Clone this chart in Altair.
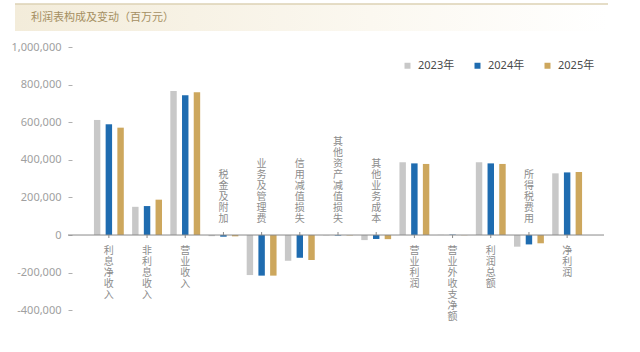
import altair as alt
import pandas as pd

categories = ["利息净收入", "非利息收入", "营业收入", "税金及附加", "业务及管理费", "信用减值损失",
              "其他资产减值损失", "其他业务成本", "营业利润", "营业外收支净额", "利润总额", "所得税费用", "净利润"]
years = ["2023年", "2024年", "2025年"]
v2023 = [612000, 150000, 766000, -6000, -213000, -137000, -2000, -27000, 387000, 1000, 387000, -62000, 328000]
v2024 = [589000, 154000, 743000, -9000, -216000, -121000, -3000, -21000, 381000, 2000, 381000, -50000, 333000]
v2025 = [571000, 188000, 759000, -7000, -216000, -133000, -2000, -22000, 378000, -1000, 378000, -44000, 335000]
y_ticks = [-400000, -200000, 0, 200000, 400000, 600000, 800000, 1000000]
title_text = "利润表构成及变动（百万元）"

colors = ["#c8c8c8", "#1f6cb0", "#cda75d"]
FONT = "Noto Sans, Noto Sans CJK SC"
W, H = 540, 273
LH = 11
FS = 10

rows = []
for series, yr in zip([v2023, v2024, v2025], years):
    for c, v in zip(categories, series):
        rows.append({"cat": c, "year": yr, "value": v})
df = pd.DataFrame(rows)

lab_rows = []
for i, c in enumerate(categories):
    s = v2023[i] + v2024[i] + v2025[i]
    lab_rows.append({"cat": c, "vert": "\n".join(list(c)), "n": len(c),
                     "side": "below" if s >= 0 else "above"})
lab = pd.DataFrame(lab_rows)

xscale = alt.Scale(domain=categories, paddingInner=0.08, paddingOuter=0.61)
yscale = alt.Scale(domain=[-452000, 1000000], nice=False, zero=False)
yaxis = alt.Axis(values=y_ticks, domain=False, grid=False, tickSize=4, tickColor="#b0b0b0",
                 labelColor="#a0a0a0", labelFont=FONT, labelFontSize=11, labelPadding=7,
                 offset=-4, labelOverlap=False, title=None,
                 labelExpr="replace(format(datum.value, ','), '\u2212', '-')")
X = alt.X("cat:N", scale=xscale, axis=None, sort=categories)
Y0 = alt.YDatum(0, scale=yscale, axis=yaxis, title=None)

bars = alt.Chart(df).mark_bar().encode(
    x=X,
    xOffset=alt.XOffset("year:N", scale=alt.Scale(domain=years, paddingInner=0.45, paddingOuter=0.225)),
    y=alt.Y("value:Q", scale=yscale, title=None, axis=yaxis),
    color=alt.Color("year:N", scale=alt.Scale(domain=years, range=colors),
                    legend=alt.Legend(title=None, orient="none", direction="horizontal",
                                      legendX=334, legendY=13, symbolType="square", symbolSize=36,
                                      labelFont=FONT, labelFontSize=11, labelColor="#4a4a4a",
                                      labelOffset=5, columnPadding=17, symbolStrokeWidth=0)),
)

zero = alt.Chart(alt.Data(values=[{}])).mark_rule(color="#8a8a8a", strokeWidth=1).encode(
    x=alt.value(0), x2=alt.value(W - 4), y=Y0
)

below = alt.Chart(lab).transform_filter("datum.side == 'below'")
above = alt.Chart(lab).transform_filter("datum.side == 'above'")

tick_below = below.mark_rule(color="#8a8a8a", y2Offset=3).encode(x=X, y=Y0, y2=alt.Y2Datum(0))
tick_above = above.mark_rule(color="#8a8a8a", y2Offset=-3).encode(x=X, y=Y0, y2=alt.Y2Datum(0))
text_below = below.mark_text(baseline="top", dy=11, lineBreak="\n", lineHeight=LH,
                             font=FONT, fontSize=FS, color="#8c8c8c").encode(x=X, y=Y0, text="vert:N")

above_layers = []
for n in sorted(set(r["n"] for r in lab_rows if r["side"] == "above")):
    above_layers.append(
        above.transform_filter(f"datum.n == {n}").mark_text(
            baseline="bottom", dy=-11 - (n - 1) * LH, lineBreak="\n", lineHeight=LH,
            font=FONT, fontSize=FS, color="#8c8c8c").encode(x=X, y=Y0, text="vert:N")
    )

grad = alt.LinearGradient(gradient="linear", x1=0, x2=1, y1=0, y2=0,
                          stops=[alt.GradientStop(color="#f3ecda", offset=0),
                                 alt.GradientStop(color="#fbf8f0", offset=0.6),
                                 alt.GradientStop(color="#ffffff", offset=1)])
band = alt.Chart(alt.Data(values=[{}])).mark_rect(fill=grad).encode(
    x=alt.value(-53), x2=alt.value(540), y=alt.value(-43), y2=alt.value(-16)
)
topline = alt.Chart(alt.Data(values=[{}])).mark_rule(color="#ddd2b4", strokeWidth=1.5).encode(
    x=alt.value(-53), x2=alt.value(540), y=alt.value(-43)
)
title = alt.Chart(alt.Data(values=[{"t": title_text}])).mark_text(
    align="left", baseline="middle", font=FONT, fontSize=11, color="#a58f62"
).encode(x=alt.value(-37), y=alt.value(-29), text="t:N")

chart = alt.layer(bars, band, topline, title, zero, tick_below, tick_above, text_below, *above_layers).properties(
    width=W, height=H,
    autosize=alt.AutoSizeParams(type="none"),
    padding={"left": 68, "top": 47, "right": 32, "bottom": 32},
    background="white",
).configure_view(stroke=None)

chart.save("out.html", embed_options={"renderer": "svg", "actions": False})
